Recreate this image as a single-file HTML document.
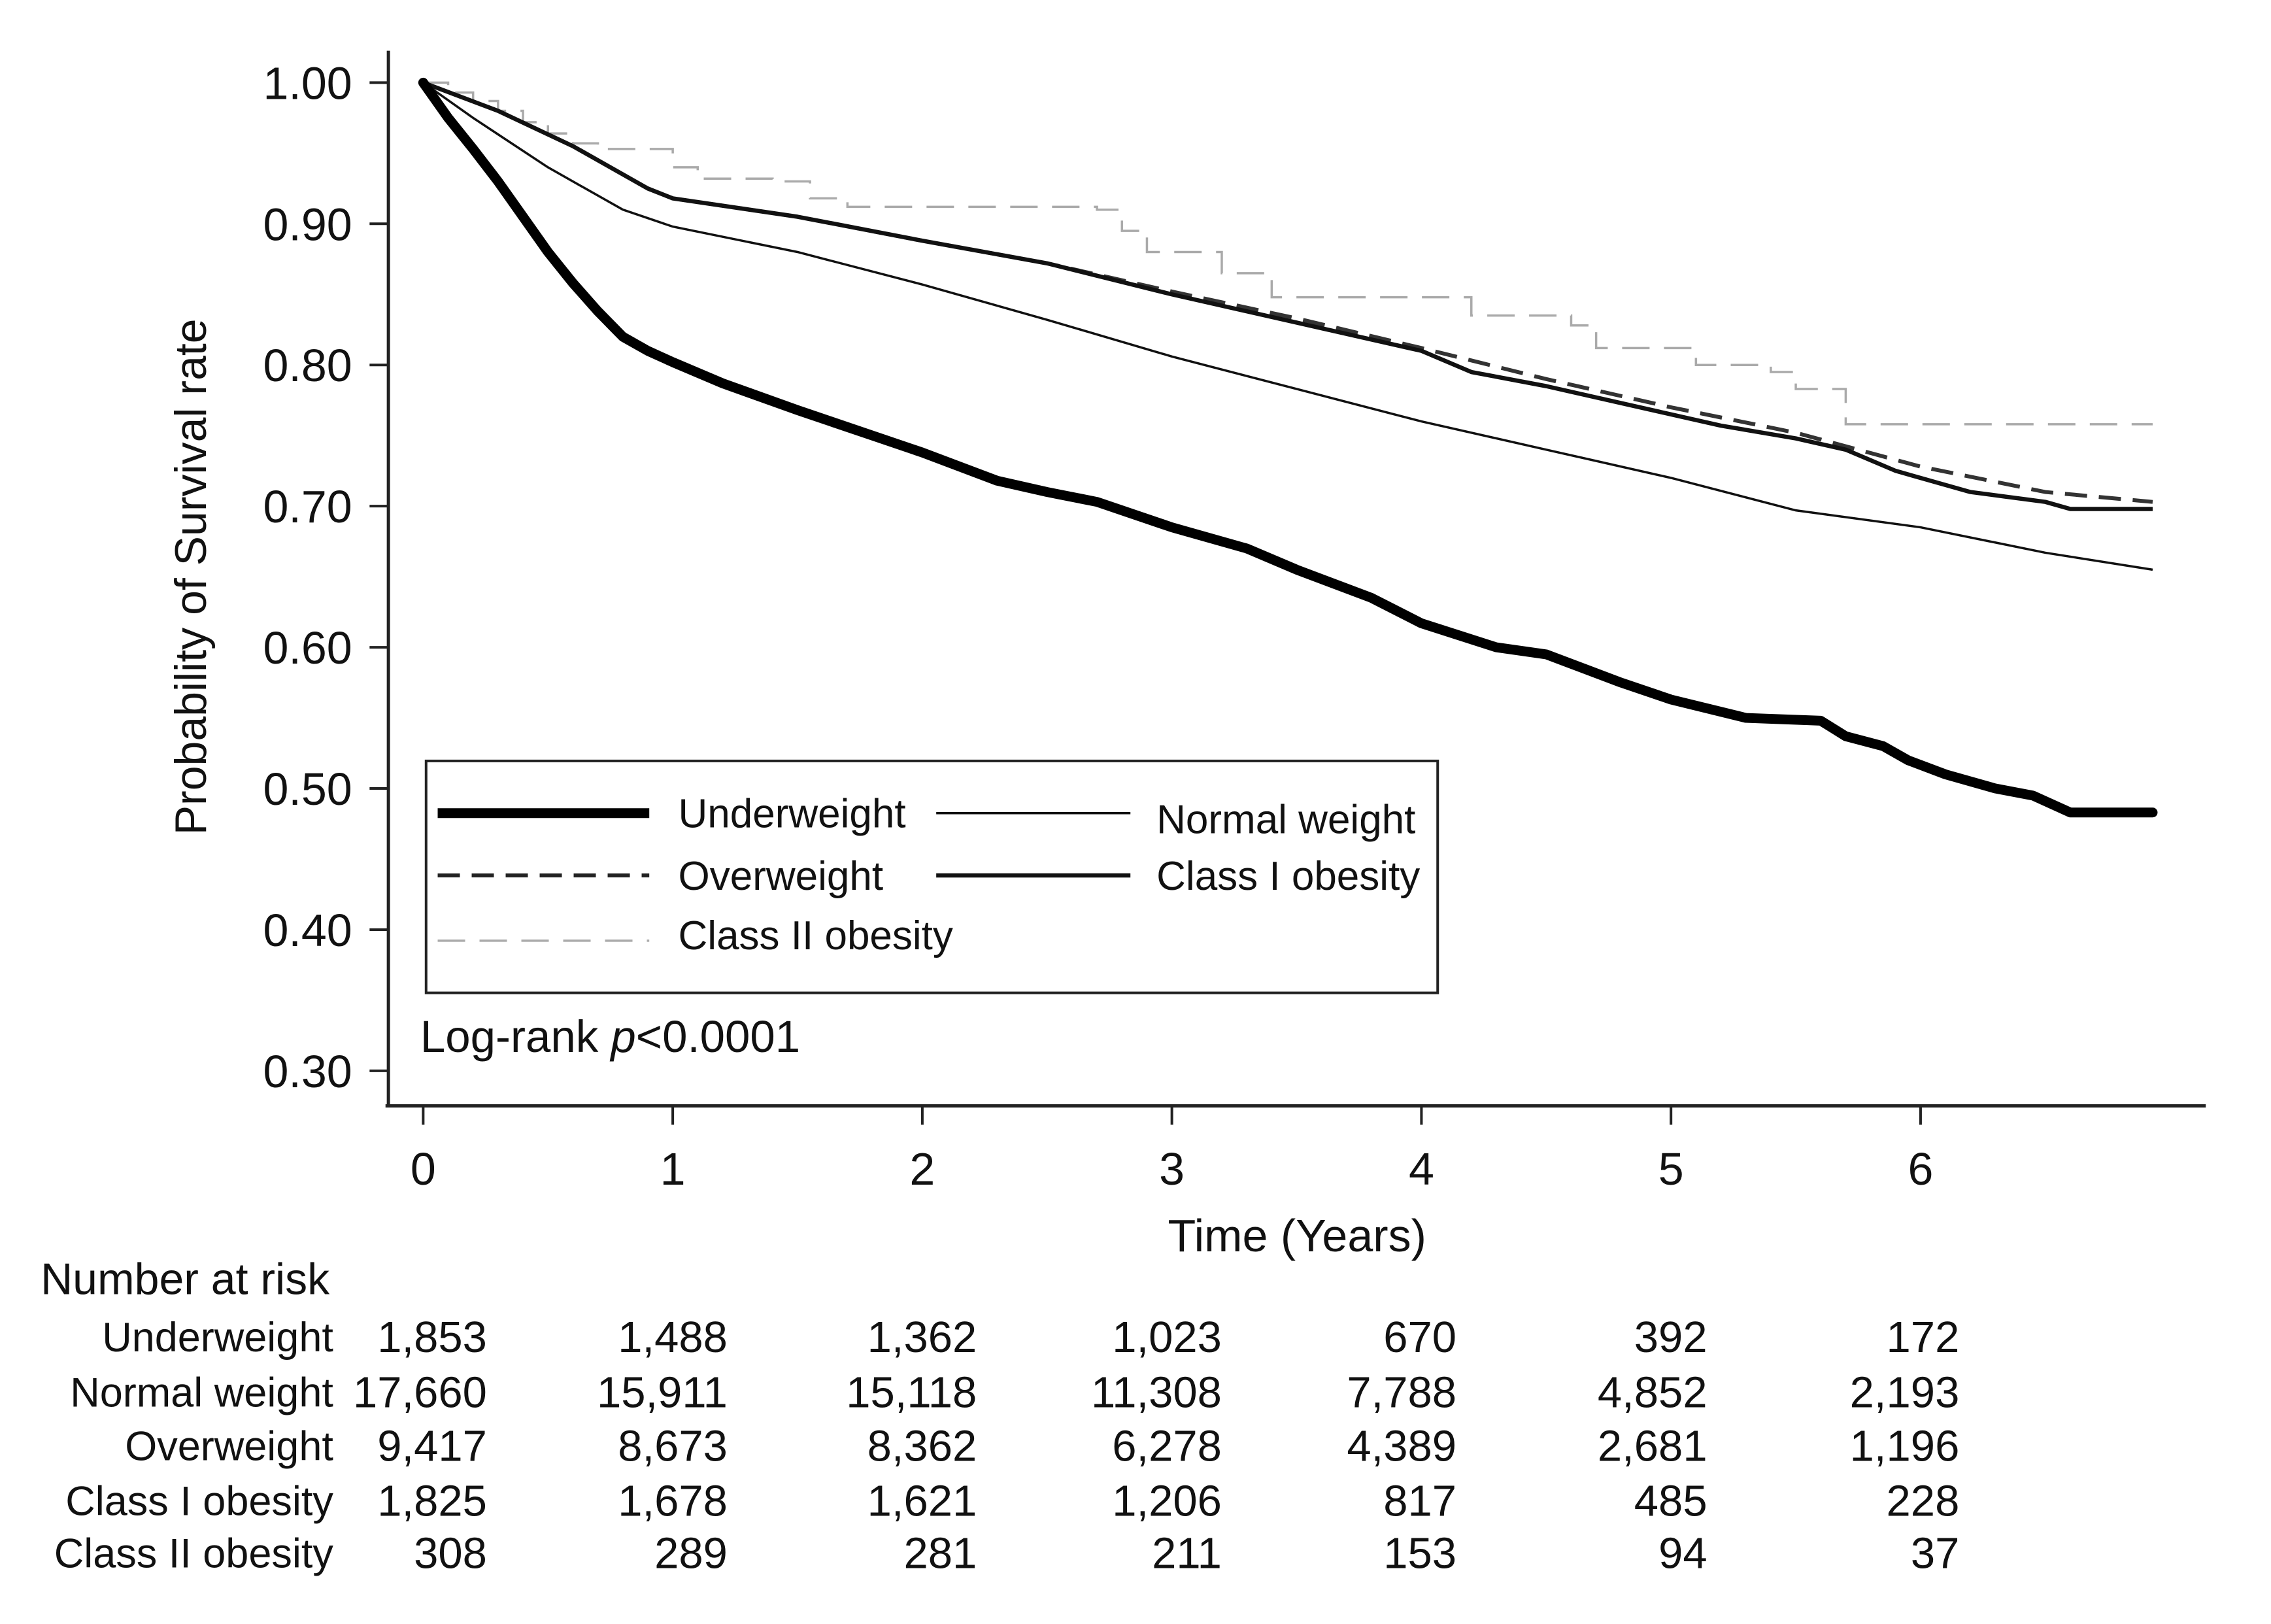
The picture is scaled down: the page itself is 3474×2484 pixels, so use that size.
<!DOCTYPE html>
<html><head><meta charset="utf-8"><style>
html,body{margin:0;padding:0;background:#fff}
svg{display:block}
text{font-family:"Liberation Sans",Arial,sans-serif;fill:#111}
</style></head><body>
<svg id="chart" width="3474" height="2484" viewBox="0 0 3474 2484">
<g id="axes"></g>
<g id="series"></g>
<g id="legend"></g>
<g id="risk"></g>
</svg>
<script>
const S = 3474/1567;
const xTicks = [0,1,2,3,4,5,6];
const yTicks = [1.0,0.9,0.8,0.7,0.6,0.5,0.4,0.3];
const underT = [0,0.1,0.2,0.3,0.4,0.5,0.6,0.7,0.8,0.9,1,1.2,1.5,1.8,2,2.3,2.5,2.7,3,3.3,3.5,3.8,4,4.3,4.5,4.8,5,5.3,5.6,5.7,5.85,5.95,6.1,6.3,6.45,6.6,6.93];
const underS = [1,0.975,0.953,0.93,0.905,0.88,0.858,0.838,0.82,0.81,0.802,0.787,0.768,0.75,0.738,0.718,0.71,0.703,0.685,0.67,0.655,0.635,0.617,0.6,0.595,0.575,0.563,0.55,0.548,0.537,0.53,0.52,0.51,0.5,0.495,0.483,0.483];
const normT = [0,0.2,0.5,0.8,1,1.5,2,2.5,3,3.5,4,4.5,5,5.5,6,6.5,6.93];
const normS = [1,0.975,0.94,0.91,0.898,0.88,0.857,0.832,0.806,0.783,0.76,0.74,0.72,0.697,0.685,0.667,0.655];
const overT = [0,0.3,0.6,0.9,1,1.5,2,2.5,3,3.5,4,4.5,5,5.5,6,6.5,6.93];
const overS = [1,0.98,0.955,0.925,0.918,0.905,0.888,0.872,0.852,0.833,0.812,0.79,0.77,0.752,0.728,0.71,0.703];
const c1T = [0,0.3,0.6,0.9,1,1.5,2,2.5,3,3.5,4,4.2,4.5,4.8,5,5.2,5.5,5.7,5.9,6.2,6.5,6.6,6.93];
const c1S = [1,0.98,0.955,0.925,0.918,0.905,0.888,0.872,0.85,0.83,0.81,0.795,0.785,0.773,0.765,0.757,0.748,0.74,0.725,0.71,0.703,0.698,0.698];
const c2T = [0,0.1,0.2,0.3,0.4,0.5,0.6,0.7,1,1.1,1.4,1.55,1.7,2.7,2.8,2.9,3.2,3.4,4.2,4.6,4.7,5.1,5.4,5.5,5.7,6.93];
const c2S = [1,0.993,0.987,0.98,0.972,0.964,0.957,0.953,0.94,0.932,0.93,0.918,0.912,0.91,0.895,0.88,0.865,0.848,0.835,0.828,0.812,0.8,0.795,0.783,0.758,0.758];
const riskGroups = ["Underweight","Normal weight","Overweight","Class I obesity","Class II obesity"];
const riskUnder = ["1,853","1,488","1,362","1,023","670","392","172"];
const riskNormal = ["17,660","15,911","15,118","11,308","7,788","4,852","2,193"];
const riskOver = ["9,417","8,673","8,362","6,278","4,389","2,681","1,196"];
const riskC1 = ["1,825","1,678","1,621","1,206","817","485","228"];
const riskC2 = ["308","289","281","211","153","94","37"];

const NS="http://www.w3.org/2000/svg";
function xp(t){return (292+172.2*t)*S;}
function yp(v){return (57+(1-v)*974)*S;}
function mk(tag,attrs,parent,txt){const e=document.createElementNS(NS,tag);for(const k in attrs)e.setAttribute(k,attrs[k]);if(txt!==undefined)e.textContent=txt;parent.appendChild(e);return e;}
const axes=document.getElementById('axes'),series=document.getElementById('series'),legend=document.getElementById('legend'),risk=document.getElementById('risk');

let a=mk('line',{x1:268*S,y1:35*S,x2:268*S,y2:763*S,stroke:'#222','stroke-width':5},axes);


a=mk('line',{x1:266*S,y1:763*S,x2:1522*S,y2:763*S,stroke:'#222','stroke-width':5},axes);


yTicks.forEach(v=>{
  const t=mk('line',{x1:255*S,x2:268*S,y1:yp(v),y2:yp(v),stroke:'#222','stroke-width':4},axes);
  
  
  const l=mk('text',{x:243*S,y:yp(v)+25,'text-anchor':'end','font-size':70},axes,v.toFixed(2));
  
  
});
xTicks.forEach(v=>{
  const t=mk('line',{x1:xp(v),x2:xp(v),y1:763*S,y2:776*S,stroke:'#222','stroke-width':4},axes);
  
  
  const l=mk('text',{x:xp(v),y:806*S+25,'text-anchor':'middle','font-size':70},axes,String(v));
  
  
});
a=mk('text',{x:895*S,y:852*S+25,'text-anchor':'middle','font-size':70},axes,'Time (Years)');


a=mk('text',{x:0,y:0,'text-anchor':'middle','font-size':68,transform:`translate(${142*S},${398*S}) rotate(-90)`},axes,'Probability of Survival rate');



function path(T,V,step){let d='M'+xp(T[0])+','+yp(V[0]);for(let i=1;i<T.length;i++){if(step)d+=' L'+xp(T[i])+','+yp(V[i-1]);d+=' L'+xp(T[i])+','+yp(V[i]);}return d;}
let p;
p=mk('path',{d:path(c2T,c2S,true),fill:'none',stroke:'#aaa','stroke-width':3.5,'stroke-dasharray':'42 22'},series);


p=mk('path',{d:path(normT,normS,false),fill:'none',stroke:'#111','stroke-width':3.5},series);


p=mk('path',{d:path(overT,overS,false),fill:'none',stroke:'#333','stroke-width':6,'stroke-dasharray':'34 18'},series);


p=mk('path',{d:path(c1T,c1S,false),fill:'none',stroke:'#111','stroke-width':6.5,'stroke-linejoin':'round'},series);


p=mk('path',{d:path(underT,underS,false),fill:'none',stroke:'#000','stroke-width':15,'stroke-linejoin':'round','stroke-linecap':'round'},series);



a=mk('rect',{x:294*S,y:525*S,width:698*S,height:160*S,fill:'#fff',stroke:'#222','stroke-width':4},legend);


const L=[
 {x1:302,x2:448,y:561,tx:468,ty:561,label:'Underweight',sw:15,col:'#000',dash:'',name:'legend-underweight'},
 {x1:646,x2:780,y:561,tx:798,ty:565,label:'Normal weight',sw:3.5,col:'#111',dash:'',name:'legend-normal-weight'},
 {x1:302,x2:448,y:604,tx:468,ty:604,label:'Overweight',sw:6,col:'#222',dash:'34 18',name:'legend-overweight'},
 {x1:646,x2:780,y:604,tx:798,ty:604,label:'Class I obesity',sw:6.5,col:'#111',dash:'',name:'legend-class-i-obesity'},
 {x1:302,x2:448,y:649,tx:468,ty:645,label:'Class II obesity',sw:3.5,col:'#aaa',dash:'42 22',name:'legend-class-ii-obesity'}
];
L.forEach(e=>{
  const g=mk('g',{},legend);
  
  
  mk('line',{x1:e.x1*S,x2:e.x2*S,y1:e.y*S,y2:e.y*S,stroke:e.col,'stroke-width':e.sw,'stroke-dasharray':e.dash},g);
  mk('text',{x:e.tx*S,y:e.ty*S+22,'font-size':62},g,e.label);
});
a=mk('text',{x:290*S,y:715*S+24,'font-size':69},legend);


a.innerHTML='Log-rank <tspan font-style="italic">p</tspan>&lt;0.0001';

a=mk('text',{x:28*S,y:882*S+24,'font-size':68},risk,'Number at risk');


const rowsY=[922,960,997,1035,1071];
const rowVals=[riskUnder,riskNormal,riskOver,riskC1,riskC2];
const colX=[336,502,674,843,1005,1178,1352];
riskGroups.forEach((g,i)=>{
  const t=mk('text',{x:230*S,y:rowsY[i]*S+23,'text-anchor':'end','font-size':63},risk,g);
  
  
  rowVals[i].forEach((v,j)=>{
    const c=mk('text',{x:colX[j]*S,y:rowsY[i]*S+24,'text-anchor':'end','font-size':67},risk,v);
    
    
  });
});
</script>
</body></html>
